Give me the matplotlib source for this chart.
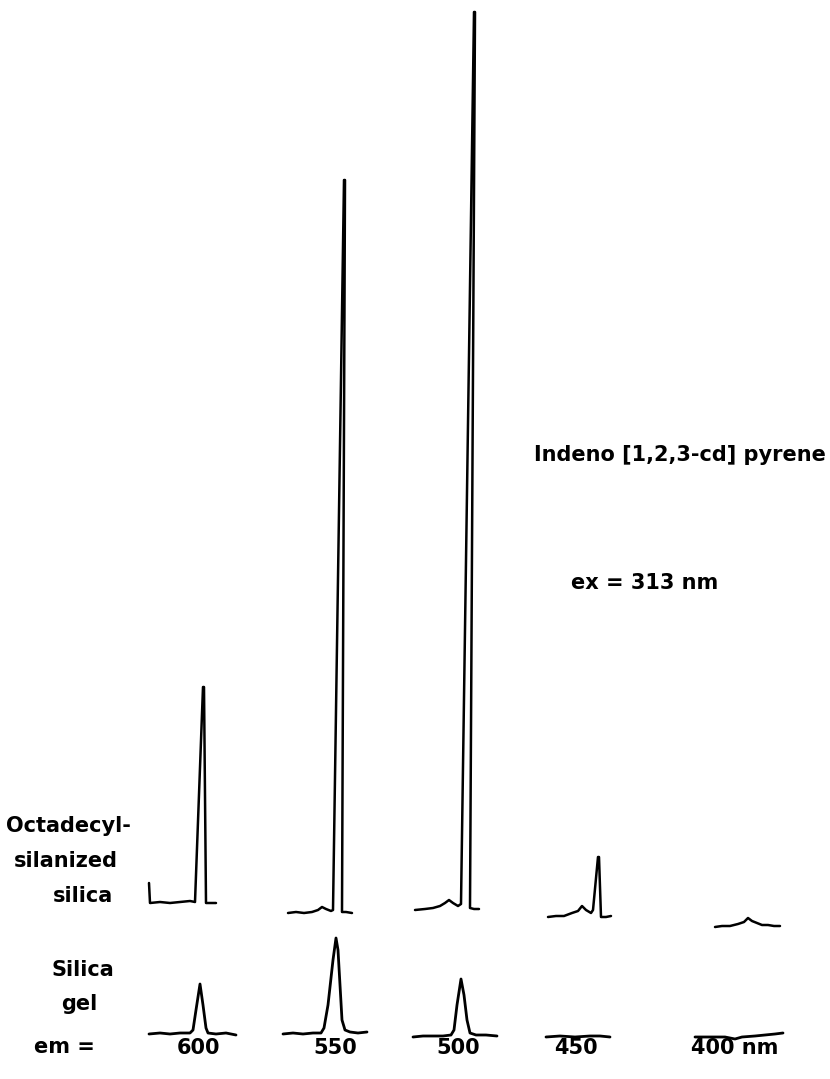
import matplotlib
matplotlib.use("Agg")
from matplotlib import pyplot as plt
import numpy as np

plt.rcParams['font.family'] = ['DejaVu Sans']

# ===================== data =====================
# emission wavelengths (columns)
em_labels = ["600", "550", "500", "450", "400 nm"]

# octadecyl-silanized silica: time (arb.) and signal (arb.) relative to trace start
ods_t = [
    [0, 1, 11, 21, 31, 41, 46, 54, 55, 57, 60, 67],
    [0, 8, 16, 24, 30, 34, 38, 43, 45, 56, 57, 54, 58, 64],
    [0, 10, 18, 25, 30, 34, 38, 43, 46, 59, 60, 55, 59, 64],
    [0, 8, 16, 24, 30, 34, 38, 43, 45, 50, 51, 53, 58, 63],
    [0, 7, 15, 23, 29, 33, 37, 42, 47, 53, 59, 65],
]
ods_s = [
    [20, 0, 1, 0, 1, 2, 1, 216, 216, 0, 0, 0],
    [0, 1, 0, 1, 3, 6, 4, 2, 3, 733, 733, 1, 1, 0],
    [0, 1, 2, 4, 7, 10, 7, 4, 6, 898, 898, 2, 1, 1],
    [0, 1, 1, 4, 6, 11, 7, 4, 7, 60, 60, 0, 0, 1],
    [0, 1, 1, 3, 5, 9, 6, 4, 2, 2, 1, 1],
]

# silica gel
sg_t = [
    [0, 11, 21, 31, 41, 44, 47, 51, 54, 57, 59, 67, 77, 87],
    [0, 10, 20, 30, 38, 41, 45, 50, 53, 55, 57, 59, 62, 67, 75, 84],
    [0, 10, 20, 30, 38, 41, 44, 48, 51, 54, 57, 63, 73, 84],
    [0, 14, 29, 44, 54, 64],
    [0, 15, 30, 40, 47, 60, 70, 80, 88],
]
sg_s = [
    [0, 1, 0, 1, 1, 4, 24, 50, 29, 6, 1, 0, 1, -1],
    [0, 1, 0, 1, 1, 6, 29, 74, 96, 84, 49, 14, 4, 2, 1, 2],
    [0, 1, 1, 1, 2, 7, 32, 58, 42, 17, 4, 2, 2, 1],
    [0, 1, 0, 1, 1, 0],
    [0, 0, 0, -2, 0, 1, 2, 3, 4],
]

# ===================== layout (pixels) =====================
ods_origin = [(149, 903), (288, 913), (415, 910), (548, 917), (715, 927)]
sg_origin = [(149, 1034), (283, 1034), (413, 1037), (546, 1037), (695, 1037)]
em_x = [198, 335, 458, 576, 735]

fig = plt.figure(figsize=(8.3, 10.79), dpi=100)
ax = fig.add_axes([0, 0, 1, 1])
ax.set_xlim(0, 830)
ax.set_ylim(1079, 0)
ax.axis('off')

for (x0, y0), t, s in zip(ods_origin, ods_t, ods_s):
    ax.plot(x0 + np.array(t), y0 - np.array(s), color='black', lw=1.8,
            solid_joinstyle='round', solid_capstyle='round')

for (x0, y0), t, s in zip(sg_origin, sg_t, sg_s):
    ax.plot(x0 + np.array(t), y0 - np.array(s), color='black', lw=2.0,
            solid_joinstyle='round', solid_capstyle='round')

fs = 15
kw = dict(ha='center', va='center', fontsize=fs, fontweight='bold', color='black')

ax.text(68, 826, "Octadecyl-", **kw)
ax.text(66, 861, "silanized", **kw)
ax.text(83, 896, "silica", **kw)
ax.text(83, 970, "Silica", **kw)
ax.text(79, 1004, "gel", **kw)
ax.text(64, 1047, "em =", **kw)

for x, lab in zip(em_x, em_labels):
    ax.text(x, 1048, lab, **kw)

ax.text(680, 455, "Indeno [1,2,3-cd] pyrene", **kw)
ax.text(645, 583, "ex = 313 nm", **kw)

fig.savefig("out.png", dpi=100)
